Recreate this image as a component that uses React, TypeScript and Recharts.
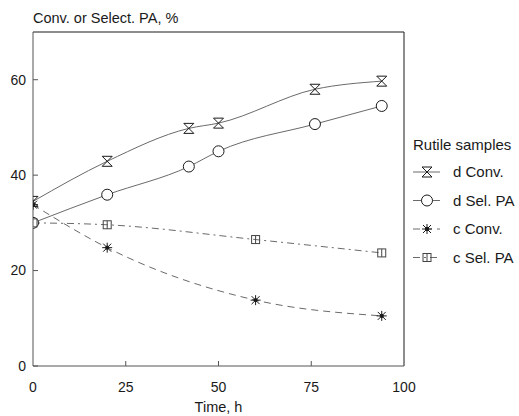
import React from "react";
import { LineChart, Line, XAxis, YAxis, ReferenceLine } from "recharts";

const X_TICKS = [0, 25, 50, 75, 100];
const Y_TICKS = [0, 20, 40, 60];

const D_TIME = [0, 20, 42, 50, 76, 94];
const D_CONV = [34.5, 42.9, 49.8, 50.9, 58, 59.7];
const D_SEL = [30, 35.9, 41.8, 45, 50.7, 54.5];

const C_TIME = [0, 20, 60, 94];
const C_CONV = [33.8, 24.8, 13.8, 10.5];
const C_SEL = [30, 29.6, 26.5, 23.7];

const FONT = "'Liberation Sans', Arial, Helvetica, sans-serif";
const INK = "#1a1a1a";
const CURVE = "#6a6a6a";
const AXIS = "#555";

const W = 519;
const H = 416;
const Y_MARGIN = 7;
const X_MARGIN = 16;

type Pt = { t: number; v: number };
const zip = (ts: number[], vs: number[]): Pt[] => ts.map((t, i) => ({ t, v: vs[i] }));

// --- markers ---------------------------------------------------------------
type MarkerKind = "hourglass" | "circle" | "star" | "square";

function Marker({ kind, cx, cy }: { kind: MarkerKind; cx: number; cy: number }) {
  const s = { stroke: INK, strokeWidth: 1, fill: "none" } as const;
  if (kind === "hourglass") {
    return (
      <path
        d={`M${cx - 5},${cy - 5} L${cx + 5},${cy - 5} L${cx - 5},${cy + 5} L${cx + 5},${cy + 5} Z`}
        {...s}
      />
    );
  }
  if (kind === "circle") {
    return <circle cx={cx} cy={cy} r={5.5} {...s} fill="#fff" />;
  }
  if (kind === "star") {
    return (
      <g {...s}>
        <path
          d={`M${cx - 5},${cy} L${cx + 5},${cy} M${cx},${cy - 5} L${cx},${cy + 5} M${cx - 4},${cy - 4} L${cx + 4},${cy + 4} M${cx - 4},${cy + 4} L${cx + 4},${cy - 4}`}
        />
        <circle cx={cx} cy={cy} r={1.6} fill={INK} />
      </g>
    );
  }
  return (
    <g {...s} stroke="#444">
      <rect x={cx - 4} y={cy - 4} width={8} height={8} />
      <path d={`M${cx},${cy - 4} L${cx},${cy + 4}`} />
    </g>
  );
}

const dotFor = (kind: MarkerKind) =>
  function Dot(props: { cx?: number; cy?: number; index?: number }) {
    const { cx, cy, index } = props;
    if (cx == null || cy == null) return <g key={index} />;
    return <Marker key={index} kind={kind} cx={cx} cy={cy} />;
  };

const SERIES: { name: string; data: Pt[]; kind: MarkerKind; dash?: string }[] = [
  { name: "d Conv.", data: zip(D_TIME, D_CONV), kind: "hourglass" },
  { name: "d Sel. PA", data: zip(D_TIME, D_SEL), kind: "circle" },
  { name: "c Conv.", data: zip(C_TIME, C_CONV), kind: "star", dash: "7 5" },
  { name: "c Sel. PA", data: zip(C_TIME, C_SEL), kind: "square", dash: "7 4 2 4" },
];

// ticks point inward, like the original plot
function YTick(props: { x?: number; y?: number; payload?: { value: number } }) {
  const x = Number(props.x);
  const y = Number(props.y);
  const ax = x + Y_MARGIN;
  return (
    <g>
      <line x1={ax} x2={ax + 5} y1={y} y2={y} stroke={AXIS} />
      <text x={x} y={y} dy="0.35em" textAnchor="end" fontSize={14} fontFamily={FONT} fill={INK}>
        {props.payload?.value}
      </text>
    </g>
  );
}

function XTick(props: { x?: number; y?: number; payload?: { value: number } }) {
  const x = Number(props.x);
  const y = Number(props.y);
  const ay = y - X_MARGIN;
  return (
    <g>
      {props.payload?.value !== 0 && props.payload?.value !== 100 && (
        <line x1={x} x2={x} y1={ay} y2={ay - 5} stroke={AXIS} />
      )}
      <text x={x} y={y} dy="0.71em" textAnchor="middle" fontSize={14} fontFamily={FONT} fill={INK}>
        {props.payload?.value}
      </text>
    </g>
  );
}

function LegendBox() {
  return (
    <div style={{ position: "absolute", left: 408, top: 136, width: 111, height: 140 }}>
      <div style={{ fontFamily: FONT, fontSize: 15, color: INK, lineHeight: "18px", marginLeft: 5 }}>
        Rutile samples
      </div>
      <svg width={111} height={120} style={{ display: "block", marginTop: 6 }}>
        {SERIES.map((s, i) => {
          const cy = 12 + i * 28.5;
          return (
            <g key={s.name}>
              <line x1={5} x2={32} y1={cy} y2={cy} stroke={CURVE} strokeDasharray={s.dash} />
              <Marker kind={s.kind} cx={19} cy={cy} />
              <text x={45} y={cy} dy="0.35em" fontSize={15} fontFamily={FONT} fill={INK}>
                {s.name}
              </text>
            </g>
          );
        })}
      </svg>
    </div>
  );
}

export default function App() {
  return (
    <div style={{ position: "absolute", left: 0, top: 0, width: W, height: H, background: "#fff" }}>
      <div
        style={{
          position: "absolute",
          left: 33,
          top: 9,
          fontFamily: FONT,
          fontSize: 14.5,
          lineHeight: "18px",
          color: INK,
        }}
      >
        Conv. or Select. PA, %
      </div>
      <LineChart width={W} height={H} margin={{ top: 32, right: 115, left: 8, bottom: 0 }}>
        <XAxis
          type="number"
          dataKey="t"
          domain={[0, 100]}
          ticks={X_TICKS}
          height={50}
          tickSize={0}
          tickMargin={X_MARGIN}
          tick={<XTick />}
          axisLine={{ stroke: AXIS }}
          allowDataOverflow
          label={{
            value: "Time, h",
            position: "insideBottom",
            offset: 4,
            fill: INK,
            fontSize: 14.5,
            fontFamily: FONT,
          }}
        />
        <YAxis
          type="number"
          dataKey="v"
          domain={[0, 70]}
          ticks={Y_TICKS}
          width={25}
          tickSize={0}
          tickMargin={Y_MARGIN}
          tick={<YTick />}
          axisLine={{ stroke: AXIS }}
          allowDataOverflow
        />
        <ReferenceLine y={70} stroke={INK} strokeWidth={1} />
        <ReferenceLine x={100} stroke={INK} strokeWidth={1} />
        {SERIES.map((s) => (
          <Line
            key={s.name}
            data={s.data}
            dataKey="v"
            name={s.name}
            type="monotone"
            stroke={CURVE}
            strokeWidth={1}
            strokeDasharray={s.dash}
            dot={dotFor(s.kind)}
            activeDot={false}
            isAnimationActive={false}
          />
        ))}
      </LineChart>
      <LegendBox />
    </div>
  );
}
